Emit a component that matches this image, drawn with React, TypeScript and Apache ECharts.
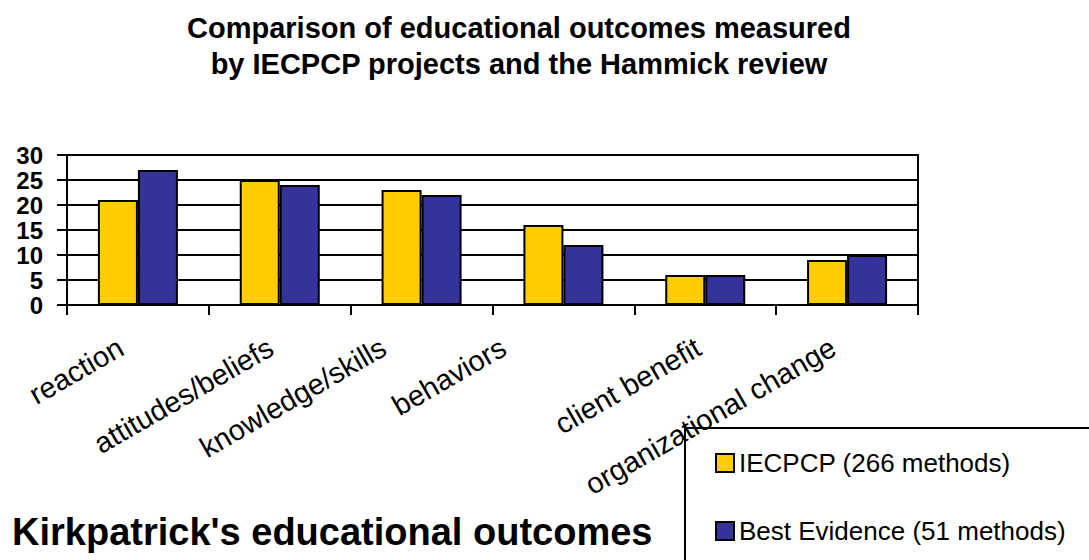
import React, { useEffect, useRef } from 'react';
import * as echarts from 'echarts';

// Kirkpatrick levels on the category axis
const categories = [
  'reaction',
  'attitudes/beliefs',
  'knowledge/skills',
  'behaviors',
  'client benefit',
  'organizational change',
];
// number of methods per outcome level
const iecpcpValues = [21, 25, 23, 16, 6, 9];
const bestEvidenceValues = [27, 24, 22, 12, 6, 10];
const yTicks = [0, 5, 10, 15, 20, 25, 30];
const seriesNames = ['IECPCP (266 methods)', 'Best Evidence (51 methods)'];
const titleLines = [
  'Comparison of educational outcomes measured',
  'by IECPCP projects and the Hammick review',
];
const axisTitle = "Kirkpatrick's educational outcomes";

const FONT = '"Liberation Sans", Arial, Helvetica, sans-serif';
const YELLOW = '#FFCC00';
const NAVY = '#333399';

// leftward shift (px) of each rotated category label from its category centre
const labelShift = [17, 9, 38, 60, 7, 14];

export default function App() {
  const ref = useRef<HTMLDivElement>(null);

  useEffect(() => {
    if (!ref.current) return;
    const chart = echarts.init(ref.current, null, { renderer: 'svg' });

    // Each rotated label is anchored at its category centre. Right padding
    // slides it back along its own direction; a bottom-aligned line box of
    // height lift raises it perpendicular to that direction.
    const k0 = 8;
    const catData = categories.map((c, i) => {
      const s = labelShift[i];
      const lift = s + 2 * k0;
      const slide = Math.max(0, 0.866 * s - 0.577 * k0);
      return {
        value: c,
        textStyle: {
          verticalAlign: 'bottom',
          lineHeight: lift,
          padding: [0, slide, 0, 0],
        },
      };
    });

    chart.setOption({
      animation: false,
      backgroundColor: '#ffffff',
      textStyle: { fontFamily: FONT, color: '#000' },
      grid: {
        left: 67,
        right: 171,
        top: 155,
        bottom: 255,
        containLabel: false,
        outerBoundsMode: 'none',
        show: true,
        borderColor: '#000',
        borderWidth: 2,
        backgroundColor: 'transparent',
      },
      legend: {
        orient: 'vertical',
        left: 685,
        top: 428,
        padding: [22, 300, 300, 30],
        borderColor: '#000',
        borderWidth: 2,
        itemWidth: 18,
        itemHeight: 18,
        itemGap: 42,
        icon: 'rect',
        itemStyle: { borderColor: '#000', borderWidth: 2 },
        textStyle: { fontFamily: FONT, fontSize: 26, color: '#000', lineHeight: 26 },
        data: seriesNames,
      },
      xAxis: {
        type: 'category',
        data: catData,
        axisLine: { show: true, lineStyle: { color: '#000', width: 2 } },
        axisTick: { show: true, interval: 0, length: 10, lineStyle: { color: '#000', width: 2 } },
        axisLabel: {
          interval: 0,
          rotate: 30,
          margin: 40 + 1.155 * k0,
          hideOverlap: false,
          fontFamily: FONT,
          fontSize: 29,
          color: '#000',
        },
        splitLine: { show: false },
      },
      yAxis: {
        type: 'value',
        min: yTicks[0],
        max: yTicks[yTicks.length - 1],
        interval: yTicks[1] - yTicks[0],
        axisLine: { show: true, lineStyle: { color: '#000', width: 2 } },
        axisTick: { show: true, length: 10, lineStyle: { color: '#000', width: 2 } },
        axisLabel: {
          margin: 24,
          showMinLabel: true,
          showMaxLabel: true,
          hideOverlap: false,
          fontFamily: FONT,
          fontSize: 24,
          lineHeight: 14,
          fontWeight: 'bold',
          color: '#000',
        },
        splitLine: { show: true, lineStyle: { color: '#000', width: 2 } },
      },
      series: [
        {
          name: seriesNames[0],
          type: 'bar',
          data: iecpcpValues,
          barWidth: 40,
          barGap: '0%',
          itemStyle: { color: YELLOW, borderColor: '#000', borderWidth: 2 },
        },
        {
          name: seriesNames[1],
          type: 'bar',
          data: bestEvidenceValues,
          barWidth: 40,
          barGap: '0%',
          itemStyle: { color: NAVY, borderColor: '#000', borderWidth: 2 },
        },
      ],
      graphic: [
        {
          type: 'text',
          x: 519,
          y: 28,
          style: {
            text: titleLines[0],
            font: `bold 29px ${FONT}`,
            fill: '#000',
            textAlign: 'center',
            textVerticalAlign: 'middle',
          },
        },
        {
          type: 'text',
          x: 519,
          y: 64,
          style: {
            text: titleLines[1],
            font: `bold 29px ${FONT}`,
            fill: '#000',
            textAlign: 'center',
            textVerticalAlign: 'middle',
          },
        },
        {
          type: 'text',
          x: 12,
          y: 532,
          style: {
            text: axisTitle,
            font: `bold 38px ${FONT}`,
            fill: '#000',
            textAlign: 'left',
            textVerticalAlign: 'middle',
          },
        },
      ],
    });

    return () => chart.dispose();
  }, []);

  return (
    <div
      ref={ref}
      style={{ position: 'fixed', left: 0, top: 0, width: 1089, height: 560 }}
    />
  );
}
